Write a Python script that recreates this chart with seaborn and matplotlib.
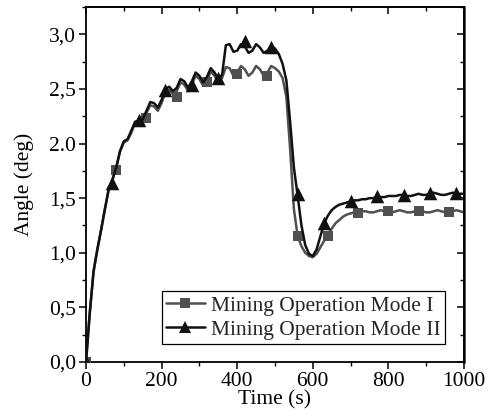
import matplotlib
matplotlib.use("Agg")
import matplotlib.pyplot as plt
from matplotlib.ticker import MultipleLocator, FixedLocator, FixedFormatter
from matplotlib.lines import Line2D
import seaborn as sns
import pandas as pd

# ---------------- data ----------------
time = list(range(0, 1001, 10))

mode1_line = [
    0.00, 0.45, 0.83, 1.03, 1.21, 1.40, 1.58, 1.67, 1.78, 1.93,   # 0-90
    2.01, 2.03, 2.10, 2.19, 2.20, 2.21, 2.28, 2.35, 2.34, 2.30,   # 100-190
    2.37, 2.47, 2.49, 2.45, 2.48, 2.56, 2.54, 2.48, 2.54, 2.62,   # 200-290
    2.59, 2.53, 2.58, 2.66, 2.62, 2.56, 2.60, 2.70, 2.69, 2.62,   # 300-390
    2.65, 2.71, 2.68, 2.62, 2.65, 2.71, 2.68, 2.62, 2.65, 2.71,   # 400-490
    2.69, 2.66, 2.60, 2.43, 1.95, 1.40, 1.15, 1.06, 1.00, 0.97,   # 500-590
    0.96, 0.99, 1.05, 1.11, 1.17, 1.22, 1.27, 1.30, 1.33, 1.35,   # 600-690
    1.36, 1.37, 1.37, 1.38, 1.38, 1.37, 1.37, 1.38, 1.39, 1.38,   # 700-790
    1.37, 1.37, 1.38, 1.39, 1.38, 1.37, 1.37, 1.38, 1.39, 1.38,   # 800-890
    1.37, 1.37, 1.38, 1.39, 1.38, 1.37, 1.37, 1.38, 1.39, 1.38,   # 900-990
    1.37,                                                         # 1000
]

mode2_line = [
    0.00, 0.45, 0.83, 1.03, 1.21, 1.40, 1.58, 1.67, 1.78, 1.93,   # 0-90
    2.02, 2.04, 2.12, 2.20, 2.21, 2.22, 2.30, 2.38, 2.37, 2.33,   # 100-190
    2.40, 2.50, 2.52, 2.48, 2.51, 2.59, 2.57, 2.51, 2.57, 2.65,   # 200-290
    2.62, 2.56, 2.61, 2.69, 2.65, 2.59, 2.63, 2.90, 2.91, 2.84,   # 300-390
    2.85, 2.91, 2.89, 2.83, 2.85, 2.91, 2.88, 2.83, 2.85, 2.89,   # 400-490
    2.87, 2.82, 2.73, 2.58, 2.20, 1.78, 1.52, 1.25, 1.07, 0.99,   # 500-590
    0.97, 1.03, 1.15, 1.27, 1.34, 1.39, 1.42, 1.44, 1.45, 1.46,   # 600-690
    1.47, 1.48, 1.48, 1.49, 1.49, 1.50, 1.50, 1.51, 1.51, 1.51,   # 700-790
    1.52, 1.52, 1.52, 1.53, 1.53, 1.52, 1.52, 1.53, 1.54, 1.53,   # 800-890
    1.53, 1.54, 1.55, 1.54, 1.53, 1.53, 1.54, 1.55, 1.54, 1.54,   # 900-990
    1.54,                                                         # 1000
]

mode1_marker_t = [0, 80, 160, 240, 320, 400, 480, 560, 640, 720, 800, 880, 960]
mode1_marker_y = [0.00, 1.76, 2.23, 2.43, 2.56, 2.64, 2.62, 1.15, 1.15, 1.36, 1.38, 1.38, 1.37]

mode2_marker_t = [0, 70, 140, 210, 280, 350, 420, 490, 560, 630, 700, 770, 840, 910, 980]
mode2_marker_y = [0.00, 1.64, 2.22, 2.49, 2.54, 2.60, 2.94, 2.88, 1.54, 1.27, 1.47, 1.52, 1.53, 1.55, 1.55]

series_names = ["Mining Operation Mode I", "Mining Operation Mode II"]
y_ticks = [0.0, 0.5, 1.0, 1.5, 2.0, 2.5, 3.0]
y_tick_labels = ["0,0", "0,5", "1,0", "1,5", "2.0", "2,5", "3,0"]
x_ticks = [0, 200, 400, 600, 800, 1000]
x_tick_labels = ["0", "200", "400", "600", "800", "1000"]

# ---------------- style ----------------
sns.set_theme(style="white")
plt.rcParams["font.family"] = ["Liberation Serif", "DejaVu Serif"]
FS = 15.5

c1 = "#505050"
c2 = "#111111"

fig = plt.figure(figsize=(4.88, 4.18), dpi=100)
ax = fig.add_axes([86 / 488, 1 - 362 / 418, (464 - 86) / 488, (362 - 7) / 418])

df1 = pd.DataFrame({"t": time, "y": mode1_line})
df2 = pd.DataFrame({"t": time, "y": mode2_line})
dm1 = pd.DataFrame({"t": mode1_marker_t, "y": mode1_marker_y})
dm2 = pd.DataFrame({"t": mode2_marker_t, "y": mode2_marker_y})

sns.lineplot(data=df1, x="t", y="y", ax=ax, color=c1, lw=1.8, zorder=2)
sns.scatterplot(data=dm1, x="t", y="y", ax=ax, color=c1, marker="s", s=62,
                edgecolor=c1, linewidth=0, zorder=3)
sns.lineplot(data=df2, x="t", y="y", ax=ax, color=c2, lw=1.8, zorder=4)
sns.scatterplot(data=dm2, x="t", y="y", ax=ax, color=c2, marker="^", s=95,
                edgecolor=c2, linewidth=0, zorder=5)

ax.set_xlim(0, 1000)
ax.set_ylim(0, 3.25)

ax.xaxis.set_major_locator(FixedLocator(x_ticks))
ax.xaxis.set_major_formatter(FixedFormatter(x_tick_labels))
ax.xaxis.set_minor_locator(MultipleLocator(100))
ax.yaxis.set_major_locator(FixedLocator(y_ticks))
ax.yaxis.set_major_formatter(FixedFormatter(y_tick_labels))
ax.yaxis.set_minor_locator(MultipleLocator(0.25))

ax.tick_params(axis="both", which="major", direction="out", length=5, width=1.1,
               labelsize=FS, color="black", labelcolor="black", pad=2,
               bottom=True, left=True)
ax.tick_params(axis="both", which="minor", direction="out", length=3, width=1.0,
               color="black", bottom=True, left=True)

for sp in ax.spines.values():
    sp.set_visible(True)
    sp.set_color("black")
    sp.set_linewidth(1.3)

# inward ticks on top and right
secx = ax.secondary_xaxis("top")
secx.xaxis.set_major_locator(FixedLocator(x_ticks))
secx.xaxis.set_minor_locator(MultipleLocator(100))
secx.tick_params(which="major", direction="in", length=5, width=1.1, labeltop=False, color="black")
secx.tick_params(which="minor", direction="in", length=3, width=1.0, color="black")
secx.spines["top"].set_linewidth(1.3)
secy = ax.secondary_yaxis("right")
secy.yaxis.set_major_locator(FixedLocator(y_ticks))
secy.yaxis.set_minor_locator(MultipleLocator(0.25))
secy.tick_params(which="major", direction="in", length=5, width=1.1, labelright=False, color="black")
secy.tick_params(which="minor", direction="in", length=3, width=1.0, color="black")
secy.spines["right"].set_linewidth(1.8)

ax.set_xlabel("Time (s)", fontsize=FS, color="black", labelpad=0)
ax.set_ylabel("Angle (deg)", fontsize=FS, color="black", labelpad=11)

handles = [
    Line2D([], [], color=c1, lw=1.8, marker="s", markersize=7.5, markeredgewidth=0),
    Line2D([], [], color=c2, lw=1.8, marker="^", markersize=9, markeredgewidth=0),
]
leg = ax.legend(handles, series_names, loc="lower right", bbox_to_anchor=(0.95, 0.05),
                fontsize=FS, frameon=True, fancybox=False, framealpha=1,
                edgecolor="black", handlelength=1.8, handletextpad=0.3,
                borderpad=0.2, labelspacing=0.2, borderaxespad=0)
leg.get_frame().set_linewidth(0.9)

fig.savefig("out.png", dpi=100)
